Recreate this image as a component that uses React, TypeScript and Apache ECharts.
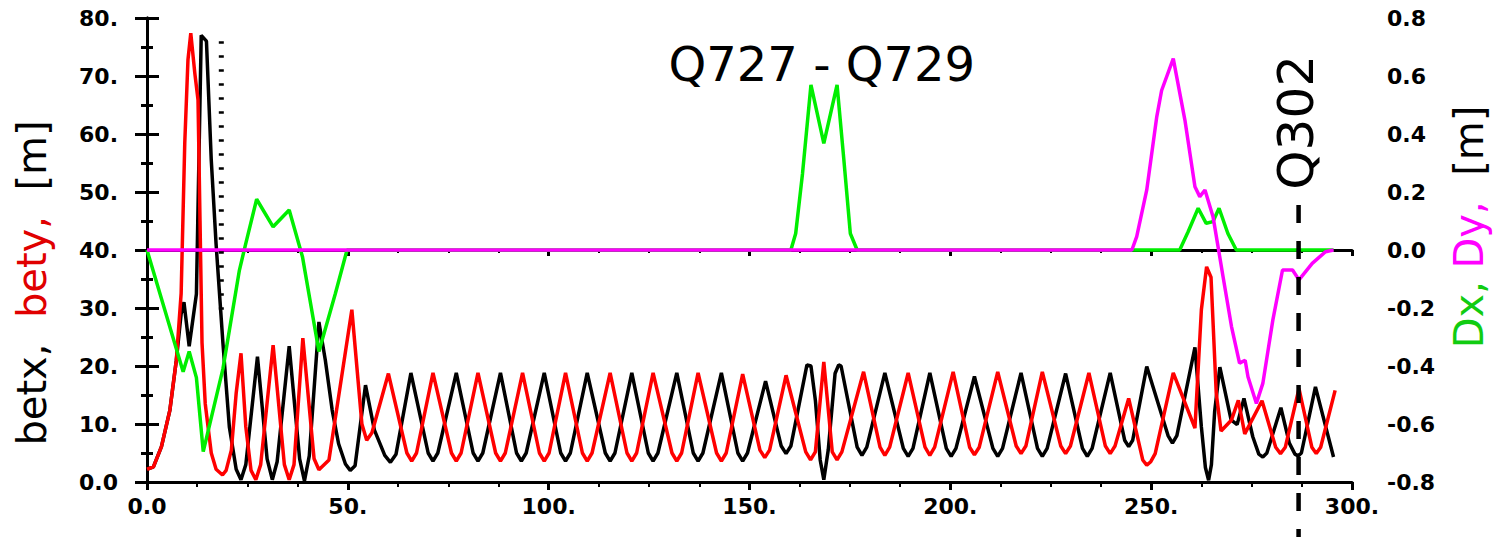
import React, { useEffect, useRef } from "react";
import * as echarts from "echarts";

// s [m] , betx [m]
const BETX: number[][] = [
  [0, 2.2], [1.6, 2.6], [3.6, 6.1], [5.7, 12.4], [7.3, 21], [8.5, 29], [9.2, 31], [10.5, 23.4], [12.3, 32.4],
  [13.5, 77], [14.8, 76], [16, 55.5], [17.2, 41], [18.9, 24], [20.5, 9.5], [22.2, 2.2], [23.4, 0.4], [24.6, 3],
  [27.5, 21.6], [29.9, 4], [31.2, 0.4], [32.4, 3.5], [35.4, 23.4], [38, 4], [39.2, 0.2], [40.4, 4.5],
  [42.8, 27.6], [44.4, 21], [46.1, 12.4], [47.7, 6.6], [49.4, 3.1], [50.6, 2], [51.8, 2.8], [54.4, 16.7],
  [56.6, 9], [59.2, 4.6], [60.6, 3.4], [62, 4.8],
  [65.7, 18.8], [70, 5], [71.2, 3.6], [72.4, 5],
  [77, 18.8], [81.2, 5], [82.4, 3.6], [83.6, 5],
  [88, 18.8], [92, 5], [93.2, 3.6], [94.4, 5],
  [98.9, 18.8], [103, 5], [104.2, 3.6], [105.4, 5],
  [109.6, 18.8], [114.1, 5], [115.3, 3.6], [116.5, 5],
  [120.7, 18.8], [124.8, 5], [126, 3.6], [127.2, 5],
  [131.9, 18.8], [136, 5], [137.2, 3.6], [138.4, 5],
  [143, 18.8], [147.1, 5], [148.3, 3.6], [149.5, 5],
  [154, 17.4], [157.9, 6.2], [159.1, 4.9], [160.3, 6.2],
  [164.3, 20.2], [165.3, 20], [166.4, 14.1], [167.6, 3.8], [168.5, 0.4], [169.6, 5.5], [171.3, 18.7],
  [172.2, 20.2], [172.8, 20], [176.8, 6], [178, 4.6], [179.2, 6],
  [183.7, 18.8], [188.3, 5.8], [189.5, 4.4], [190.7, 5.8],
  [194.9, 18.8], [199, 5.8], [200.2, 4.4], [201.4, 5.8],
  [206, 18.2], [210.6, 5.8], [211.8, 4.4], [213, 5.8],
  [217.6, 18.8], [221.7, 5.8], [222.9, 4.4], [224.1, 5.8],
  [228.7, 18.7], [232.9, 5.8], [234.1, 4.4], [235.3, 5.8],
  [239.8, 18.8], [243.4, 7.2], [244.4, 6.1], [245.4, 7.2],
  [248.9, 19.9], [254.2, 8], [255.3, 6.7], [256.4, 8],
  [260.9, 23.2], [262.5, 9.5], [263.5, 2.5], [264.3, 0.3], [265, 3], [265.8, 12.1], [267.1, 19.8],
  [269.9, 10.7], [271.4, 9.9], [273.1, 14.4], [275.3, 7.8], [276.8, 4.8], [277.8, 4.3], [278.8, 5],
  [282.3, 12.8], [284.4, 6.7], [285.8, 4.8], [286.6, 4.5], [287.4, 5],
  [290.9, 16.4], [295.4, 4.3],
];

// s [m] , bety [m]
const BETY: number[][] = [
  [0, 2.2], [1.6, 2.6], [3.6, 6.1], [5.7, 12.4], [7.3, 21], [8.5, 32.5], [9.4, 58.4], [10.2, 72.8], [10.9, 77.4],
  [11.9, 70.5], [12.7, 65.9], [13.2, 45], [13.7, 24], [14.5, 13.5], [15.2, 9.5], [16, 5], [17.2, 2.2],
  [18.8, 1.2], [19.7, 2], [21, 5.5], [22.2, 15.3], [23.4, 22.2], [24.6, 9.5], [25.9, 2], [27.1, 0.4], [28.3, 3],
  [31.4, 23.6], [34.2, 3], [35.4, 0.4], [36.6, 3], [38.8, 24.8], [41.6, 4], [42.8, 2.1], [45.3, 3.8],
  [51, 29.7], [53.5, 10], [54.7, 7.2], [56, 8.5], [60.1, 18.7],
  [64.7, 5], [65.9, 3.6], [67.1, 5], [71.2, 18.8],
  [75.8, 5], [77, 3.6], [78.2, 5], [82.4, 18.8],
  [86.8, 5], [88, 3.6], [89.2, 5], [93.5, 18.8],
  [97.7, 5], [98.9, 3.6], [100.1, 5], [104.2, 18.8],
  [108.4, 5], [109.6, 3.6], [110.8, 5], [115.3, 18.8],
  [119.5, 5], [120.7, 3.6], [121.9, 5], [126, 18.8],
  [130.7, 5], [131.9, 3.6], [133.1, 5], [137.2, 18.8],
  [141.8, 5], [143, 3.6], [144.2, 5], [148.3, 18.6],
  [152.6, 5.5], [153.8, 4.2], [155, 5.5], [159.1, 18.4],
  [164, 5.2], [165.2, 3.8], [166.4, 5.2], [168.5, 20.7],
  [170.6, 5.2], [171.8, 3.8], [173, 5.2], [178.4, 19],
  [182.5, 6], [183.7, 4.6], [184.9, 6], [189.5, 18.8],
  [193.7, 6], [194.9, 4.6], [196.1, 6], [200.7, 19],
  [204.8, 6], [206, 4.7], [207.2, 6], [211.8, 19],
  [216.4, 6.2], [217.6, 4.9], [218.8, 6.2], [222.9, 19],
  [227.5, 6.2], [228.7, 4.9], [229.9, 6.2], [234.5, 18.8],
  [238.6, 6.2], [239.8, 4.9], [241, 6.2], [244.4, 14.4],
  [247.9, 3.8], [248.9, 2.9], [249.9, 3.5], [251, 4.9], [255.5, 18.8],
  [260.9, 9.3], [262.5, 29.7], [263.8, 37.1], [264.9, 35.3], [266.2, 15.3], [267.4, 8.8],
  [270, 10.7], [271.7, 14.1], [273.3, 8.3], [277.6, 14],
  [281, 6], [282.2, 4.9], [283.4, 6], [286.8, 16.1],
  [290, 6], [291.1, 4.9], [292.2, 6], [295.8, 15.8],
];

// s [m] , Dx [m]
const DX: number[][] = [
  [0, 0], [9, -0.42], [10.5, -0.35], [12.3, -0.44], [14, -0.695], [18.9, -0.41], [23, -0.07], [24.6, 0.023],
  [27.3, 0.175], [31.4, 0.08], [35.4, 0.138], [38.7, -0.023], [42.8, -0.35], [46.9, -0.15], [49.8, 0],
  [160.3, 0], [161.5, 0.057], [163.2, 0.264], [165.3, 0.569], [168.5, 0.368], [171.8, 0.569], [173.5, 0.31],
  [175.1, 0.057], [176.8, 0],
  [257.1, 0], [259.2, 0.063], [261.7, 0.144], [263.7, 0.092], [265.4, 0.098], [266.9, 0.144], [269.1, 0.057],
  [271.2, 0], [295.4, 0],
];

// s [m] , Dy [m]
const DY: number[][] = [
  [0, 0], [245.2, 0], [246.4, 0.046], [248.9, 0.207], [251.4, 0.46], [252.6, 0.55], [255.5, 0.66],
  [258.4, 0.448], [260.9, 0.218], [262.1, 0.184], [263.4, 0.207], [265.4, 0.115], [267.9, -0.092],
  [270, -0.264], [272, -0.39], [273.4, -0.38], [274.1, -0.437], [276.2, -0.529], [277.8, -0.46],
  [280.3, -0.241], [282.7, -0.069], [285.2, -0.069], [286.8, -0.103], [290.1, -0.046], [293.4, -0.006],
  [295.4, 0],
];

// annotations (data units)
const Q302_S = 286.7;
const Q302_LINE_D = [0.155, -0.99];
const Q302_LABEL_D = 0.44;
const MARKER_S = 18.5;
const MARKER_BETA = [76, 28];
const Q727_LABEL_POS = [168, 72];

const FONT = "DejaVu Sans";

const fmtBeta = (v: number) => (v === 0 ? "0.0" : `${Math.round(v)}.`);
const fmtD = (v: number) => (Math.abs(v) < 1e-9 ? "0.0" : v.toFixed(1));

export default function App() {
  const ref = useRef<HTMLDivElement>(null);
  useEffect(() => {
    if (!ref.current) return;
    const chart = echarts.init(ref.current, null, { renderer: "svg" });
    const labelStyle = { fontFamily: FONT, fontSize: 22, fontWeight: "bold", color: "#000" };
    const axisLine = { show: true, lineStyle: { color: "#000", width: 3 } };
    const LW = 3.5;
    const TF = 40;
    chart.setOption({
      animation: false,
      backgroundColor: "#fff",
      grid: { left: 147, right: 137, top: 18, bottom: 55, containLabel: false },
      xAxis: [
        {
          type: "value", min: 0, max: 300, interval: 50, position: "bottom",
          axisLine,
          axisTick: { show: true, inside: false, length: 8, lineStyle: { width: 3, color: "#000" } },
          minorTick: { show: true, splitNumber: 4, length: 5, lineStyle: { width: 2, color: "#000" } },
          splitLine: { show: false },
          axisLabel: { ...labelStyle, margin: 13, formatter: fmtBeta },
        },
        {
          type: "value", min: 0, max: 300, interval: 50, position: "top",
          axisLine,
          axisTick: { show: true, inside: true, length: 6, lineStyle: { width: 3, color: "#000" } },
          minorTick: { show: true, splitNumber: 4, length: 3, lineStyle: { width: 2, color: "#000" } },
          splitLine: { show: false },
          axisLabel: { show: false },
        },
      ],
      yAxis: [
        {
          type: "value", min: 0, max: 80, interval: 10, position: "left",
          axisLine,
          axisTick: { show: true, inside: false, length: 12, lineStyle: { width: 3, color: "#000" } },
          minorTick: { show: true, splitNumber: 2, length: 6, lineStyle: { width: 3, color: "#000" } },
          splitLine: { show: false },
          axisLabel: { ...labelStyle, margin: 29, formatter: fmtBeta },
          name: "{k|betx,  }{r|bety,}{k|  [m]}",
          nameLocation: "middle",
          nameRotate: 90,
          nameGap: 95,
          nameTextStyle: {
            fontFamily: FONT, fontSize: TF, color: "#000", padding: [0, 66, 0, 0],
            rich: {
              k: { fontFamily: FONT, fontSize: TF, color: "#000" },
              r: { fontFamily: FONT, fontSize: TF, color: "#e00000" },
            },
          },
        },
        {
          type: "value", min: -0.8, max: 0.8, interval: 0.2, position: "right",
          axisLine,
          axisTick: { show: true, inside: false, length: 12, lineStyle: { width: 3, color: "#000" } },
          minorTick: { show: true, splitNumber: 2, length: 6, lineStyle: { width: 3, color: "#000" } },
          splitLine: { show: false },
          axisLabel: { ...labelStyle, margin: 35, formatter: fmtD },
          name: "{g|Dx, }{m|Dy, }{k| [m]}",
          nameLocation: "middle",
          nameRotate: 90,
          nameGap: 97,
          nameTextStyle: {
            fontFamily: FONT, fontSize: TF, color: "#000", padding: [0, 0, 0, 46],
            rich: {
              g: { fontFamily: FONT, fontSize: TF, color: "#11cc11" },
              m: { fontFamily: FONT, fontSize: TF, color: "#ff00ff" },
              k: { fontFamily: FONT, fontSize: TF, color: "#000" },
            },
          },
        },
      ],
      series: [
        { name: "betx", type: "line", data: BETX, xAxisIndex: 0, yAxisIndex: 0, showSymbol: false, lineStyle: { color: "#000", width: LW }, z: 2 },
        { name: "bety", type: "line", data: BETY, xAxisIndex: 0, yAxisIndex: 0, showSymbol: false, lineStyle: { color: "#ff0000", width: LW }, z: 3 },
        { name: "Dx", type: "line", data: DX, xAxisIndex: 0, yAxisIndex: 1, showSymbol: false, lineStyle: { color: "#00ee00", width: LW }, z: 4 },
        { name: "Dy", type: "line", data: DY, xAxisIndex: 0, yAxisIndex: 1, showSymbol: false, lineStyle: { color: "#ff00ff", width: LW }, z: 5 },
      ],
    });

    const pD = (s: number, d: number) => chart.convertToPixel({ xAxisIndex: 0, yAxisIndex: 1 }, [s, d]) as number[];
    const pB = (s: number, b: number) => chart.convertToPixel({ xAxisIndex: 0, yAxisIndex: 0 }, [s, b]) as number[];
    const q1 = pD(Q302_S, Q302_LINE_D[0]);
    const q2 = pD(Q302_S, Q302_LINE_D[1]);
    const ql = pD(Q302_S, Q302_LABEL_D);
    const m1 = pB(MARKER_S, MARKER_BETA[0]);
    const m2 = pB(MARKER_S, MARKER_BETA[1]);
    const t = pB(Q727_LABEL_POS[0], Q727_LABEL_POS[1]);

    chart.setOption({
      graphic: [
        { type: "line", z: 20, shape: { x1: q1[0], y1: q1[1], x2: q2[0], y2: q2[1] }, style: { stroke: "#000", lineWidth: 4.5, lineDash: [18, 18] } },
        { type: "line", z: 20, shape: { x1: m1[0], y1: m1[1], x2: m2[0], y2: m2[1] }, style: { stroke: "#000", lineWidth: 5, lineDash: [2.5, 11.5] } },
        { type: "text", z: 20, x: ql[0] - 3, y: ql[1], rotation: Math.PI / 2, style: { text: "Q302", x: 0, y: 0, align: "center", verticalAlign: "middle", font: `50px '${FONT}'`, fill: "#000" } },
        { type: "text", z: 20, x: t[0], y: t[1], style: { text: "Q727 - Q729", x: 0, y: 0, align: "center", verticalAlign: "middle", font: `48px '${FONT}'`, fill: "#000" } },
      ],
    });

    return () => chart.dispose();
  }, []);
  return <div ref={ref} style={{ position: "fixed", left: 0, top: 0, width: 1497, height: 537, background: "#fff" }} />;
}
